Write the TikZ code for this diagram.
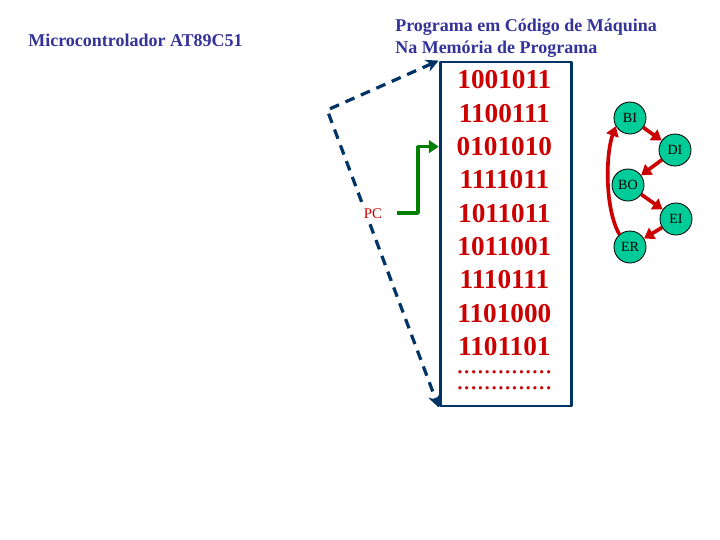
\documentclass[tikz,border=0pt]{standalone}
\usepackage{fontspec}
\setmainfont{Liberation Serif}
\usetikzlibrary{arrows.meta}
\definecolor{titleblue}{RGB}{51,51,153}
\definecolor{navy}{RGB}{0,51,102}
\definecolor{bitred}{RGB}{204,0,0}
\definecolor{statefill}{RGB}{0,204,153}
\definecolor{pcgreen}{RGB}{0,128,0}
\begin{document}
\begin{tikzpicture}[line cap=round, line join=round,
    title/.style={inner sep=0pt, text=titleblue, font=\fontsize{12.8}{15.6}\selectfont\bfseries},
    bits/.style={inner sep=0pt, text=bitred, font=\fontsize{19.4}{22}\selectfont\bfseries},
    mem/.style={draw=navy, line width=2pt, minimum width=3.275cm, minimum height=8.6cm, inner sep=0pt},
    state/.style={circle, draw=black, line width=0.6pt, fill=statefill, minimum size=0.8cm, inner sep=0pt, font=\fontsize{10}{12}\selectfont},
    flow/.style={draw=bitred, line width=2.6pt, line cap=butt, -{Triangle[length=7pt,width=9pt]}},
    link/.style={draw=navy, line width=2.3pt, dash pattern=on 7pt off 5pt, line cap=butt,
      {Stealth[length=9pt,width=9pt]}-{Stealth[length=9pt,width=9pt]}},
    pcline/.style={draw=pcgreen, line width=2.4pt, line cap=butt, -{Triangle[length=7pt,width=9pt]}}]
  \useasboundingbox[fill=white] (0,0) rectangle (18,-13.5);
  \node[title, anchor=west] (mcu) at (0.7,-1.0) {Microcontrolador AT89C51};
  \node[title, anchor=west, align=left] (head) at (9.875,-0.95) {Programa em Código de Máquina\\Na Memória de Programa};
  \node[mem] (mem) at (12.64,-5.85) {};
  \node[bits] (r1) at (12.61,-2.0) {1001011};
  \node[bits] (r2) at (12.61,-2.833) {1100111};
  \node[bits] (r3) at (12.61,-3.666) {0101010};
  \node[bits] (r4) at (12.61,-4.5) {1111011};
  \node[bits] (r5) at (12.61,-5.333) {1011011};
  \node[bits] (r6) at (12.61,-6.166) {1011001};
  \node[bits] (r7) at (12.61,-7.0) {1110111};
  \node[bits] (r8) at (12.61,-7.833) {1101000};
  \node[bits] (r9) at (12.61,-8.666) {1101101};
  \node[bits, font=\fontsize{19.4}{22}\selectfont] (d1) at (12.61,-9.3) {..............};
  \node[bits, font=\fontsize{19.4}{22}\selectfont] (d2) at (12.61,-9.7) {..............};
  % ponteiro de memoria
  \coordinate (bend) at (8.18,-2.75);
  \draw[link] (mem.north west) -- (bend) -- (mem.south west);
  % contador de programa
  \node[inner sep=1pt, fill=white, text=bitred, font=\fontsize{10.5}{12}\selectfont] (pc) at (9.325,-5.35) {PC};
  \coordinate (pcin) at (9.925,-5.325);
  \coordinate (pcup) at (10.45,-3.666);
  \draw[pcline] (pcin) -| (pcup) -- (mem.west |- r3);
  % ciclo de estados
  \node[state] (BI) at (15.75,-2.95) {BI};
  \node[state] (DI) at (16.875,-3.75) {DI};
  \node[state] (BO) at (15.7,-4.625) {BO};
  \node[state] (EI) at (16.9,-5.475) {EI};
  \node[state] (ER) at (15.75,-6.175) {ER};
  \draw[flow] (BI) -- (DI);
  \draw[flow] (DI) -- (BO);
  \draw[flow] (BO) -- (EI);
  \draw[flow] (EI) -- (ER);
  \draw[flow] (ER.130) to[out=120, in=250, looseness=0.7] (BI.210);
\end{tikzpicture}
\end{document}
